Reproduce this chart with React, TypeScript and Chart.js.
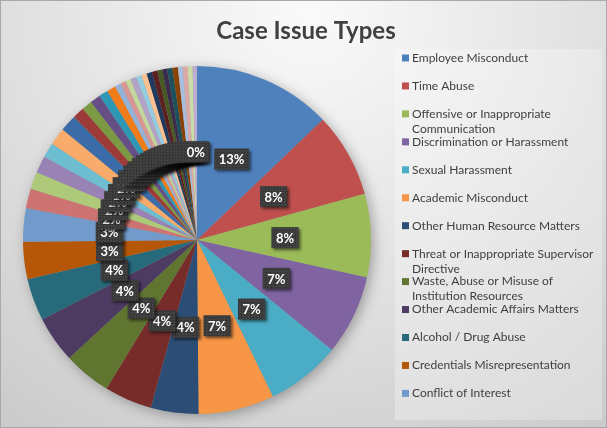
import React, { useEffect, useRef } from "react";
import { Chart, registerables } from "chart.js";

Chart.register(...registerables);

const chartTitle = "Case Issue Types";

const legendLabels = [
  "Employee Misconduct",
  "Time Abuse",
  "Offensive or Inappropriate Communication",
  "Discrimination or Harassment",
  "Sexual Harassment",
  "Academic Misconduct",
  "Other Human Resource Matters",
  "Threat or Inappropriate Supervisor Directive",
  "Waste, Abuse or Misuse of Institution Resources",
  "Other Academic Affairs Matters",
  "Alcohol / Drug Abuse",
  "Credentials Misrepresentation",
  "Conflict of Interest",
];

// share of cases per slice (percent), clockwise from top
const shareValues = [
  12.8, 7.8, 7.7, 7.4, 6.9, 7.0, 4.4, 4.4, 4.4, 4.3, 3.9, 3.45, 3.1,
  1.8, 1.6, 1.55, 1.4, 1.6,
  1.55, 1.08, 0.97, 0.97, 0.83, 0.83,
  0.55, 0.5, 0.5, 0.55, 0.5, 0.5, 0.5, 0.5, 0.45, 0.45, 0.5, 0.5, 0.45, 0.45, 0.45, 0.4,
];

const palette = [
  "#4F81BD", "#C0504D", "#9BBB59", "#8064A2", "#4BACC6", "#F79646",
  "#2C4D75", "#772C2A", "#5F7530", "#4D3B62", "#276A7C", "#B65708",
  "#729ACA", "#CD7371", "#AFC97A", "#9983B5", "#6FBDD1", "#F9AB6B",
  "#3C6CA8", "#9C3B38", "#7B9A43", "#654F85", "#2E98B4", "#F07D1A",
  "#95B3D7", "#D99694", "#C3D69B", "#B3A2C7", "#93CDDD", "#FAC090",
  "#1F3A5C", "#5A2120", "#475823", "#3A2C4A", "#1D505D", "#894206",
  "#A9BEDC", "#DDA9A8", "#CCDCA8", "#BBAED0",
];

const FONT = "Lato, 'Open Sans', sans-serif";

function wrapText(ctx: CanvasRenderingContext2D, text: string, maxW: number): string[] {
  const words = text.split(" ");
  const lines: string[] = [];
  let cur = "";
  for (const w of words) {
    const t = cur ? cur + " " + w : w;
    if (ctx.measureText(t).width > maxW && cur) {
      lines.push(cur);
      cur = w;
    } else cur = t;
  }
  if (cur) lines.push(cur);
  return lines;
}

export default function App() {
  const ref = useRef<HTMLCanvasElement>(null);

  useEffect(() => {
    document.body.style.margin = "0";
    const canvas = ref.current!;
    const total = shareValues.reduce((a, b) => a + b, 0);

    const pc = document.createElement("canvas");
    pc.width = 3;
    pc.height = 3;
    const pctx = pc.getContext("2d")!;
    pctx.fillStyle = "#3a3a3a";
    pctx.fillRect(0, 0, 3, 3);
    pctx.fillStyle = "#4a4a4a";
    pctx.fillRect(0, 0, 1, 1);
    pctx.fillRect(2, 1, 1, 1);
    pctx.fillStyle = "#333";
    pctx.fillRect(1, 2, 1, 1);

    const bgPlugin = {
      id: "bg",
      beforeDraw(chart: any) {
        const { ctx, width, height } = chart;
        ctx.save();
        const g = ctx.createRadialGradient(310, 10, 0, 310, 10, 560);
        g.addColorStop(0, "#fafafa");
        g.addColorStop(0.45, "#e4e4e4");
        g.addColorStop(1, "#c6c6c6");
        ctx.fillStyle = g;
        ctx.fillRect(0, 0, width, height);
        ctx.strokeStyle = "#a8a8a8";
        ctx.lineWidth = 1;
        ctx.strokeRect(0.5, 0.5, width - 1, height - 1);
        // title
        ctx.fillStyle = "#404040";
        ctx.font = `bold 24px ${FONT}`;
        ctx.textAlign = "center";
        ctx.textBaseline = "alphabetic";
        ctx.fillText(chartTitle, 306, 39);
        ctx.restore();
      },
    };

    const shadowPlugin = {
      id: "pieShadow",
      beforeDatasetsDraw(chart: any) {
        const arc = chart.getDatasetMeta(0).data[0];
        if (!arc) return;
        const { x, y, outerRadius } = arc.getProps(["x", "y", "outerRadius"], true);
        const ctx = chart.ctx;
        ctx.save();
        ctx.shadowColor = "rgba(0,0,0,0.35)";
        ctx.shadowBlur = 14;
        ctx.shadowOffsetX = 3;
        ctx.shadowOffsetY = 3;
        ctx.fillStyle = "#999";
        ctx.beginPath();
        ctx.arc(x, y, outerRadius - 1, 0, Math.PI * 2);
        ctx.fill();
        ctx.restore();
      },
    };

    const labelPlugin = {
      id: "sliceLabels",
      afterDatasetsDraw(chart: any) {
        const ctx = chart.ctx;
        const pattern = ctx.createPattern(pc, "repeat");
        const meta = chart.getDatasetMeta(0);
        meta.data.forEach((arc: any, i: number) => {
          const { x, y, startAngle, endAngle, outerRadius } = arc.getProps(
            ["x", "y", "startAngle", "endAngle", "outerRadius"],
            true
          );
          const mid = (startAngle + endAngle) / 2;
          const rr = outerRadius * 0.506;
          const cx = x + Math.cos(mid) * rr;
          const cy = y + Math.sin(mid) * rr;
          const txt = Math.round((shareValues[i] / total) * 100) + "%";
          ctx.save();
          ctx.font = `bold 13px ${FONT}`;
          const w = ctx.measureText(txt).width + 9;
          const h = 21;
          ctx.shadowColor = "rgba(0,0,0,0.55)";
          ctx.shadowBlur = 3;
          ctx.shadowOffsetX = 2;
          ctx.shadowOffsetY = 2;
          ctx.fillStyle = pattern || "#3a3a3a";
          ctx.fillRect(cx - w / 2, cy - h / 2, w, h);
          ctx.shadowColor = "transparent";
          ctx.fillStyle = "#ffffff";
          ctx.textAlign = "center";
          ctx.textBaseline = "middle";
          ctx.fillText(txt, cx, cy + 1);
          ctx.restore();
        });
      },
    };

    const legendPlugin = {
      id: "customLegend",
      afterDraw(chart: any) {
        const ctx = chart.ctx;
        const ds = chart.data.datasets[0];
        ctx.save();
        ctx.fillStyle = "rgba(255,255,255,0.28)";
        ctx.fillRect(395, 49, 207, 371);
        ctx.font = `12px ${FONT}`;
        ctx.textBaseline = "middle";
        ctx.textAlign = "left";
        legendLabels.forEach((label, i) => {
          const y0 = 58 + i * 27.95;
          ctx.fillStyle = ds.backgroundColor[i];
          ctx.fillRect(402, y0 - 3.5, 7, 7);
          ctx.fillStyle = "#404040";
          const lines = wrapText(ctx, label, 188);
          lines.forEach((ln, j) => ctx.fillText(ln, 412, y0 + j * 15));
        });
        ctx.restore();
      },
    };

    const chart = new Chart(canvas, {
      type: "pie",
      data: {
        labels: shareValues.map((_, i) => legendLabels[i] ?? ""),
        datasets: [
          {
            data: shareValues,
            backgroundColor: shareValues.map((_, i) => palette[i % palette.length]),
            borderWidth: 0,
          },
        ],
      },
      options: {
        responsive: false,
        animation: false,
        layout: { padding: { left: 23, right: 236, top: 66, bottom: 14 } },
        plugins: {
          legend: { display: false },
          title: { display: false },
          tooltip: { enabled: false },
        },
      },
      plugins: [bgPlugin, shadowPlugin, labelPlugin, legendPlugin],
    });
    return () => chart.destroy();
  }, []);

  return <canvas ref={ref} width={607} height={428} style={{ display: "block" }} />;
}
